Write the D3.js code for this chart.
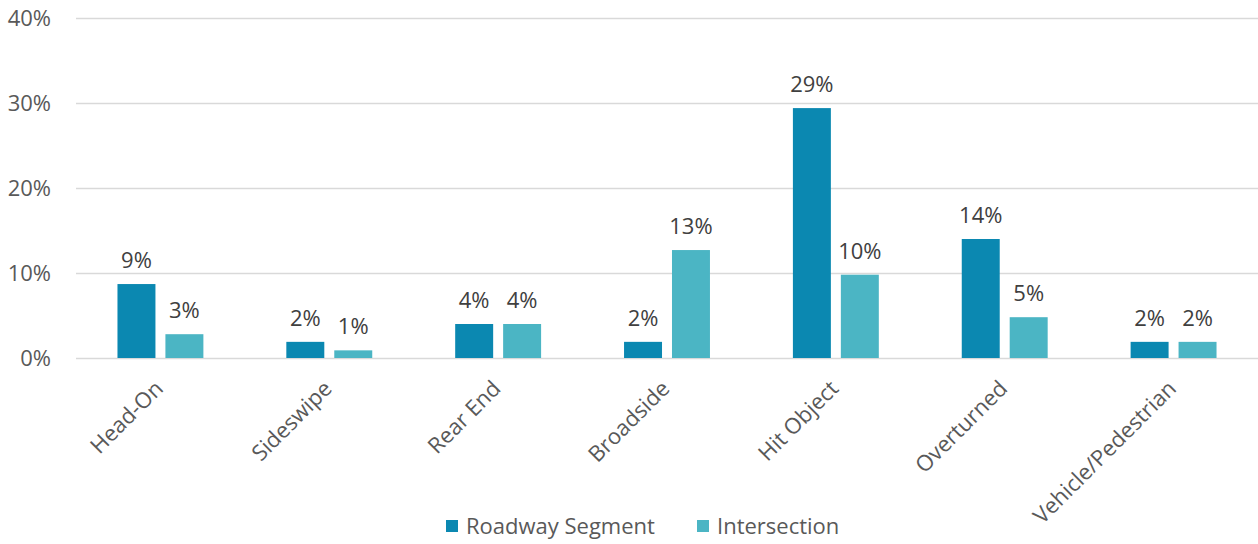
<!DOCTYPE html>
<html>
<head>
<meta charset="utf-8">
<script src="https://cdn.jsdelivr.net/npm/d3@7"></script>
<style>
  html, body { margin: 0; padding: 0; background: #fff; }
  svg { display: block; font-family: "Open Sans", "Noto Sans", sans-serif; }
</style>
</head>
<body>
<svg id="chart" width="1258" height="544"></svg>
<script>
// Collision types and share of crashes by location
const categories = ["Head-On", "Sideswipe", "Rear End", "Broadside", "Hit Object", "Overturned", "Vehicle/Pedestrian"];
const seriesNames = ["Roadway Segment", "Intersection"];
const roadwaySegment = [0.087, 0.019, 0.040, 0.019, 0.294, 0.140, 0.019];
const intersection = [0.028, 0.009, 0.040, 0.127, 0.098, 0.048, 0.019];
const yTicks = [0, 0.1, 0.2, 0.3, 0.4];
const colors = ["#0B88B1", "#4BB5C4"];

const svg = d3.select("#chart");
const margin = { left: 76, right: 0, top: 18, bottom: 186 };
const width = 1258, height = 544;
const fontSize = 22;

const x = d3.scaleBand().domain(categories).range([margin.left, width - margin.right]).paddingInner(0).paddingOuter(0);
const bw = x.bandwidth();
const x1 = d3.scaleBand().domain(seriesNames).range([bw * 0.2456, bw * 0.7544]).paddingInner(0.208).paddingOuter(0);
const y = d3.scaleLinear().domain([0, 0.4]).range([358, 18]);

const pct = d3.format(".0%");

// gridlines
svg.append("g").selectAll("line").data(yTicks).join("line")
  .attr("x1", margin.left).attr("x2", width)
  .attr("y1", d => Math.round(y(d)) + 0.5).attr("y2", d => Math.round(y(d)) + 0.5)
  .attr("stroke", "#d9d9d9").attr("stroke-width", 1.5);

// y axis labels
const yAxis = d3.axisLeft(y).tickValues(yTicks).tickFormat(pct).tickSize(0).tickPadding(0);
const gy = svg.append("g").attr("transform", "translate(51,0)").call(yAxis);
gy.select(".domain").remove();
gy.selectAll("text").attr("font-size", fontSize).attr("fill", "#595959").attr("font-family", "Open Sans, sans-serif");

// x axis labels (rotated)
const xAxis = d3.axisBottom(x).tickSize(0).tickPadding(0);
const gx = svg.append("g").attr("transform", "translate(0,358)").call(xAxis);
gx.select(".domain").remove();
gx.selectAll("text")
  .attr("font-size", fontSize).attr("fill", "#595959").attr("font-family", "Open Sans, sans-serif")
  .attr("text-anchor", "end").attr("dy", 0).attr("y", 0)
  .attr("transform", "translate(4,32) rotate(-45)");

// bars
const rows = categories.map((c, i) => ({ cat: c, vals: [roadwaySegment[i], intersection[i]] }));
const groups = svg.append("g").selectAll("g").data(rows).join("g")
  .attr("transform", d => `translate(${x(d.cat)},0)`);

groups.selectAll("rect").data(d => d.vals.map((v, j) => ({ key: seriesNames[j], v, j }))).join("rect")
  .attr("x", d => x1(d.key)).attr("width", x1.bandwidth())
  .attr("y", d => y(d.v)).attr("height", d => y(0) - y(d.v))
  .attr("fill", d => colors[d.j]);

groups.selectAll("text").data(d => d.vals.map((v, j) => ({ key: seriesNames[j], v, j }))).join("text")
  .attr("x", d => x1(d.key) + x1.bandwidth() / 2)
  .attr("y", d => y(d.v) - 16)
  .attr("text-anchor", "middle").attr("font-size", fontSize).attr("fill", "#404040")
  .text(d => pct(d.v));

// legend
const legend = svg.append("g").attr("transform", "translate(446,520)");
const legendX = [0, 251];
seriesNames.forEach((name, i) => {
  const g = legend.append("g").attr("transform", `translate(${legendX[i]},0)`);
  g.append("rect").attr("width", 12).attr("height", 12).attr("fill", colors[i]);
  g.append("text").attr("x", 20).attr("y", 14).attr("font-size", fontSize).attr("fill", "#595959").text(name);
});
</script>
</body>
</html>
